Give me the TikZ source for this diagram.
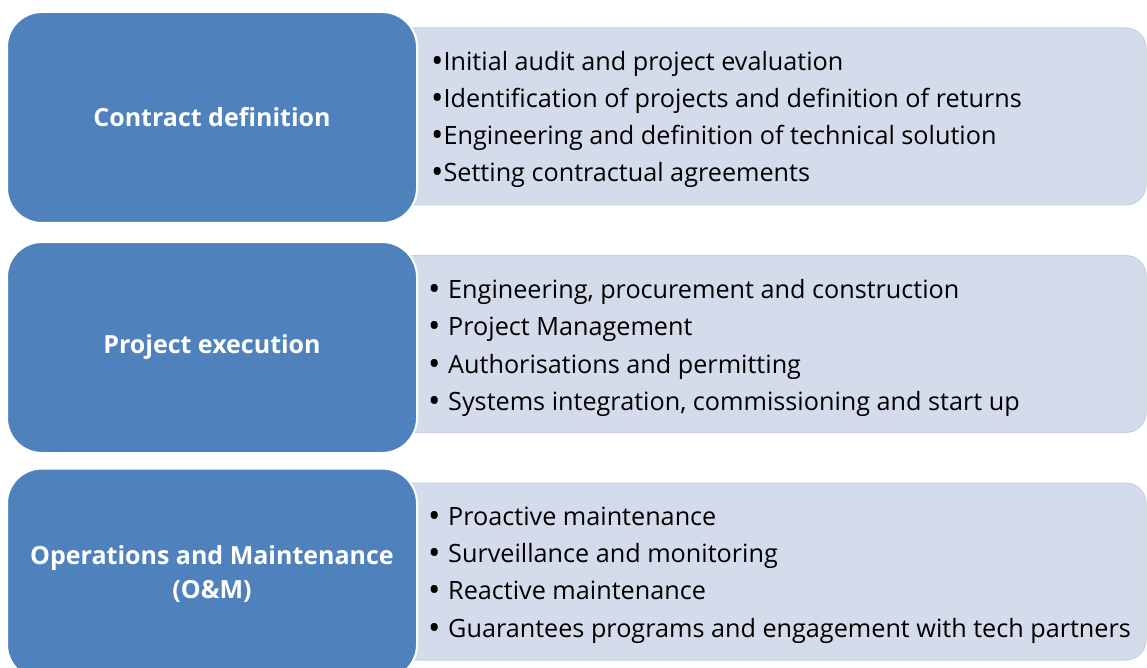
\documentclass[tikz,border=0pt]{standalone}
\usepackage{fontspec}
\setmainfont{Open Sans}
\definecolor{phase}{RGB}{79,129,189}
\definecolor{detail}{RGB}{212,219,234}
\definecolor{detailedge}{RGB}{200,208,226}
\newcommand\bigdot{\raisebox{-2pt}{\fontsize{33}{33}\selectfont\textbullet}}
\newcommand\tabdot{\makebox[20pt][l]{\bigdot}}
\begin{document}
\begin{tikzpicture}[x=1pt,y=-1pt,
  phasebox/.style={fill=phase,draw=white,line width=2pt,rounded corners=35pt,
    minimum width=410pt,minimum height=211pt,inner sep=0pt,
    text=white,font=\fontsize{25}{34}\selectfont\bfseries,align=center},
  detailbox/.style={fill=detail,draw=detailedge,line width=1pt,rounded corners=20pt,
    minimum width=766pt,minimum height=177pt,inner sep=0pt},
  items/.style={anchor=west,inner sep=0pt,align=left,text=black,
    font=\fontsize{25.2}{37.3}\selectfont}]
\useasboundingbox (0,0) rectangle (1147,668);
\node[detailbox] (d1) at (763,116.5) {};
\node[detailbox] (d2) at (763,344) {};
\node[detailbox] (d3) at (763,571.5) {};
\node[phasebox] (p1) at (212,117.5) {Contract definition};
\node[phasebox] (p2) at (212,347.5) {Project execution};
\node[phasebox] (p3) at (212,574) {Operations and Maintenance\\(O\&M)};
\node[items] (i1) at (431,119.5) {\bigdot Initial audit and project evaluation\\
\bigdot Identification of projects and definition of returns\\
\bigdot Engineering and definition of technical solution\\
\bigdot Setting contractual agreements};
\node[items] (i2) at (428,348) {\tabdot Engineering, procurement and construction\\
\tabdot Project Management\\
\tabdot Authorisations and permitting\\
\tabdot Systems integration, commissioning and start up};
\node[items] (i3) at (428,575) {\tabdot Proactive maintenance\\
\tabdot Surveillance and monitoring\\
\tabdot Reactive maintenance\\
\tabdot Guarantees programs and engagement with tech partners};
\end{tikzpicture}
\end{document}
